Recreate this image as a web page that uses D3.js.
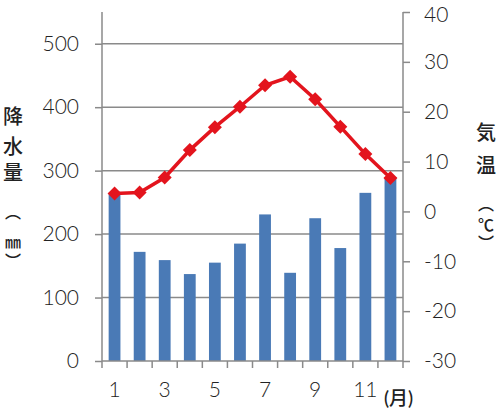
<!DOCTYPE html>
<html>
<head>
<meta charset="utf-8">
<script src="https://cdn.jsdelivr.net/npm/d3@7"></script>
<style>
  body { margin: 0; background: #fff; }
  text { font-family: Lato, "Noto Sans CJK JP", sans-serif; }
</style>
</head>
<body>
<div id="chart"></div>
<script>
// DATA
var months = [1, 2, 3, 4, 5, 6, 7, 8, 9, 10, 11, 12];
var monthLabels = ["1", "", "3", "", "5", "", "7", "", "9", "", "11", ""];
var rain = [265, 172, 159, 137, 155, 185, 231, 139, 225, 178, 265, 290];
var temp = [3.6, 3.8, 6.8, 12.3, 16.9, 21.0, 25.3, 27.0, 22.5, 17.0, 11.5, 6.7];
var rainTicks = [0, 100, 200, 300, 400, 500];
var tempTicks = [-30, -20, -10, 0, 10, 20, 30, 40];

// size of the drawing
var w = 500, h = 414;
// plot edges (window.top is taken, so prefixed names)
var plotL = 102, plotR = 403, plotT = 12, plotB = 361;

var numFont = "Lato, sans-serif";
var cjkFont = "'Noto Sans CJK JP', sans-serif";

var svg = d3.select("#chart").append("svg")
    .attr("width", w)
    .attr("height", h);

// scales
var x = d3.scaleBand().domain(months).range([plotL, plotR]);
var yRain = d3.scaleLinear().domain([0, 550]).range([plotB, plotT]);
var yTemp = d3.scaleLinear().domain([-30, 40]).range([plotB, plotT]);

var gray = "#8a8a8a";

// gridlines
svg.append("g")
    .selectAll("line")
    .data(rainTicks.slice(1))
    .enter()
    .append("line")
    .attr("x1", plotL)
    .attr("x2", plotR)
    .attr("y1", d => yRain(d))
    .attr("y2", d => yRain(d))
    .attr("stroke", gray)
    .attr("stroke-width", 1.5);

// bars
var barW = x.bandwidth() * 0.47;
svg.append("g")
    .selectAll("rect")
    .data(rain)
    .enter()
    .append("rect")
    .attr("x", (d, i) => x(months[i]) + (x.bandwidth() - barW) / 2)
    .attr("y", d => yRain(d))
    .attr("width", barW)
    .attr("height", d => plotB - yRain(d))
    .attr("fill", "#4a7ab6");

// left axis
var leftAxis = svg.append("g")
    .attr("transform", "translate(" + plotL + ",0)")
    .call(d3.axisLeft(yRain).tickValues(rainTicks).tickSize(7).tickPadding(16));
leftAxis.select(".domain").attr("d", "M0," + plotT + "V" + plotB);

// right axis (plain hyphen for negatives, like the original)
var rightAxis = svg.append("g")
    .attr("transform", "translate(" + plotR + ",0)")
    .call(d3.axisRight(yTemp).tickValues(tempTicks).tickSize(7).tickPadding(14)
        .tickFormat(d => String(d)));
rightAxis.select(".domain").attr("d", "M0," + plotT + "V" + plotB);

// bottom axis: ticks on the band edges, labels in the middle
var edges = months.map(m => x(m)).concat([plotR]);
var bottomAxis = svg.append("g");
bottomAxis.append("line")
    .attr("x1", plotL).attr("x2", plotR)
    .attr("y1", plotB).attr("y2", plotB)
    .attr("stroke", gray).attr("stroke-width", 1.5);
bottomAxis.selectAll(".edge")
    .data(edges)
    .enter()
    .append("line")
    .attr("class", "edge")
    .attr("x1", d => d).attr("x2", d => d)
    .attr("y1", plotB).attr("y2", plotB + 7)
    .attr("stroke", gray).attr("stroke-width", 1.5);
bottomAxis.selectAll(".lbl")
    .data(monthLabels)
    .enter()
    .append("text")
    .attr("class", "lbl")
    .attr("x", (d, i) => x(months[i]) + x.bandwidth() / 2)
    .attr("y", 397)
    .attr("text-anchor", "middle")
    .attr("font-size", 21)
    .attr("font-weight", 300)
    .attr("font-family", numFont)
    .attr("fill", "#222")
    .text(d => d);

svg.append("text")
    .attr("x", 384)
    .attr("y", 405)
    .attr("font-size", 19)
    .attr("font-weight", 500)
    .attr("font-family", cjkFont)
    .attr("fill", "#222")
    .text("(月)");

[leftAxis, rightAxis].forEach(function (a) {
    a.selectAll(".domain, line").attr("stroke", gray).attr("stroke-width", 1.5);
    a.selectAll("text")
        .attr("font-size", 21)
        .attr("font-weight", 300)
        .attr("fill", "#222")
        .attr("font-family", numFont);
});
// keep the top label inside the picture
rightAxis.selectAll(".tick text").filter(d => d === 40).attr("dy", "0.45em");

// temperature line
var line = d3.line()
    .x((d, i) => x(months[i]) + x.bandwidth() / 2)
    .y(d => yTemp(d));

svg.append("path")
    .datum(temp)
    .attr("d", line)
    .attr("fill", "none")
    .attr("stroke", "#e3141d")
    .attr("stroke-width", 3.5);

svg.append("g")
    .selectAll("path")
    .data(temp)
    .enter()
    .append("path")
    .attr("d", d3.symbol().type(d3.symbolSquare).size(98))
    .attr("transform", (d, i) => "translate(" + (x(months[i]) + x.bandwidth() / 2) + "," + yTemp(d) + ") rotate(45)")
    .attr("fill", "#e3141d");

// vertical axis titles, one glyph per line
var rainTitle = [["降", 124, 20], ["水", 154, 20], ["量", 180, 20], ["︵", 218, 16], ["㎜", 248, 16], ["︶", 267, 16]];
var tempTitle = [["気", 140, 20], ["温", 173, 20], ["︵", 210, 16], ["℃", 231, 16], ["︶", 249, 16]];

svg.append("g")
    .selectAll("text")
    .data(rainTitle)
    .enter()
    .append("text")
    .attr("x", 13)
    .attr("y", d => d[1])
    .attr("text-anchor", "middle")
    .attr("font-size", d => d[2])
    .attr("font-weight", 500)
    .attr("font-family", cjkFont)
    .attr("fill", "#222")
    .text(d => d[0]);

svg.append("g")
    .selectAll("text")
    .data(tempTitle)
    .enter()
    .append("text")
    .attr("x", 486)
    .attr("y", d => d[1])
    .attr("text-anchor", "middle")
    .attr("font-size", d => d[2])
    .attr("font-weight", 500)
    .attr("font-family", cjkFont)
    .attr("fill", "#222")
    .text(d => d[0]);
</script>
</body>
</html>
